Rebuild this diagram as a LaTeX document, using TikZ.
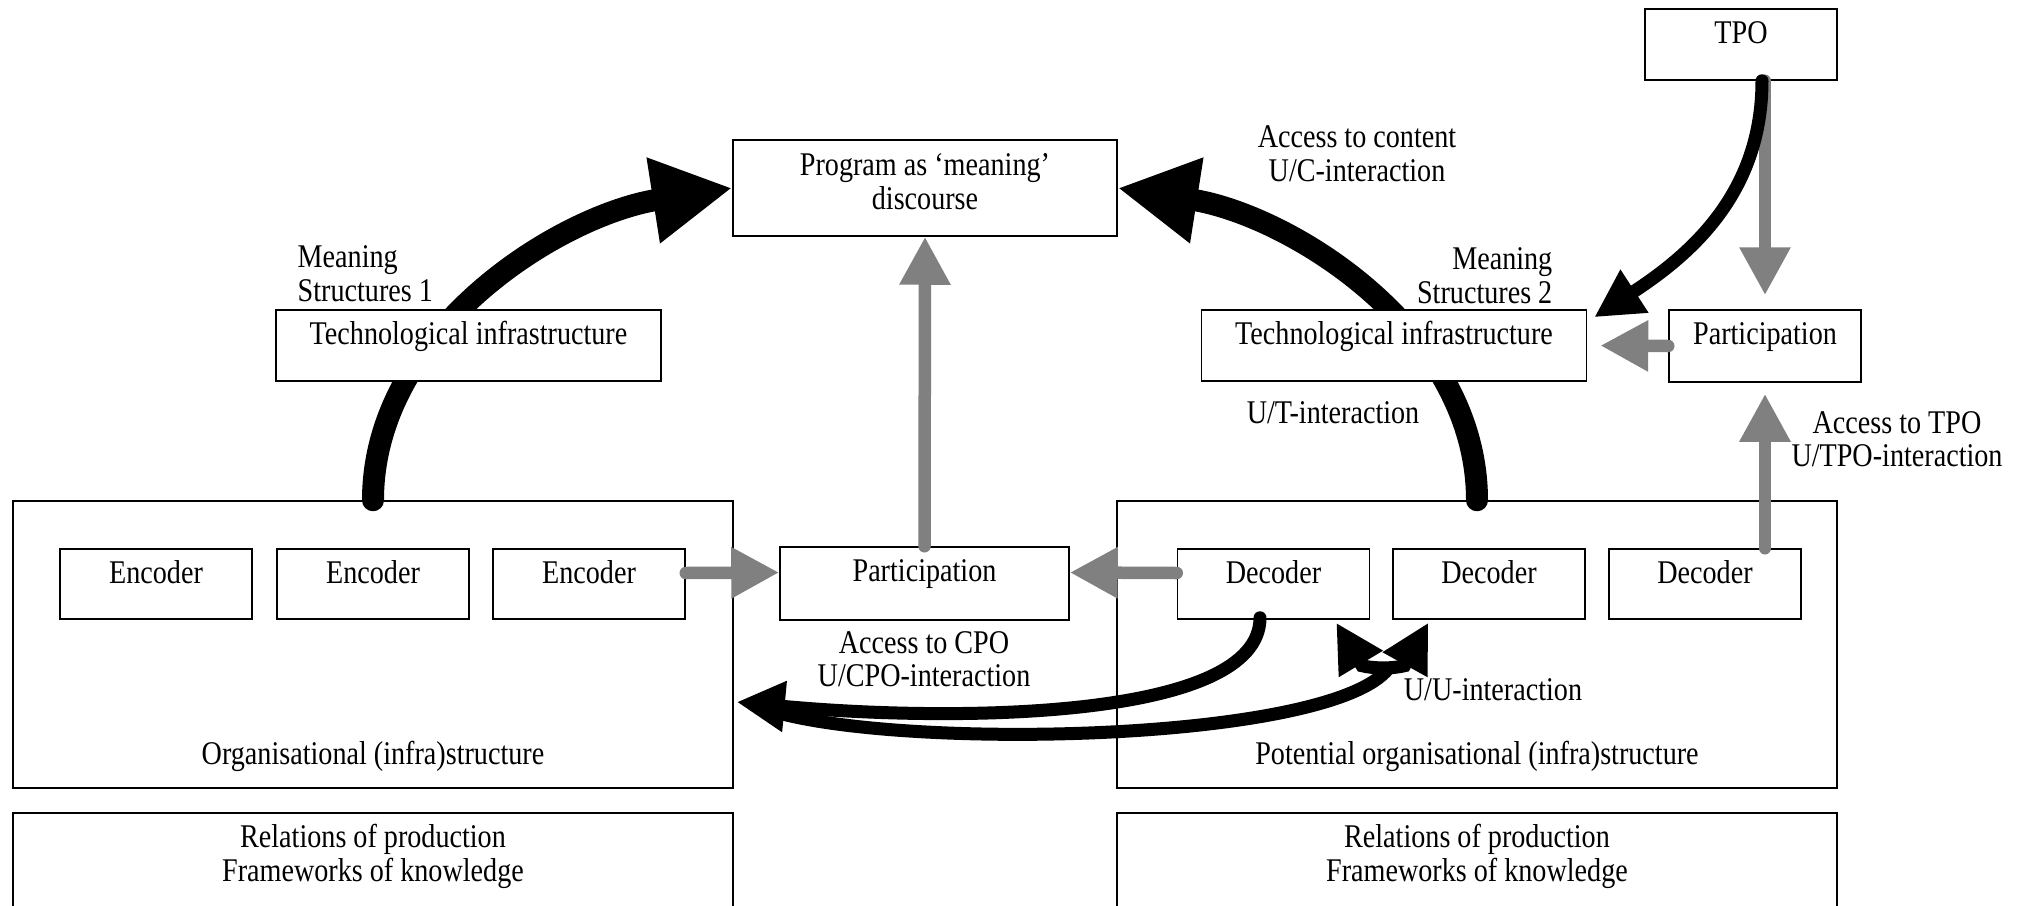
\documentclass[tikz,border=0pt]{standalone}
\usepackage{fontspec}
\setmainfont{Liberation Serif}[FakeStretch=0.85]
\usetikzlibrary{arrows.meta,calc}
\definecolor{arrgray}{RGB}{128,128,128}
\begin{document}
\begin{tikzpicture}[
  txt/.style={font=\fontsize{9.42pt}{9.6pt}\selectfont, inner sep=0pt},
  box/.style={draw, line width=0.015cm, fill=white, inner sep=0pt, rectangle},
  toplab/.style={txt, anchor=base, yshift=-0.35cm},
  toplabii/.style={txt, anchor=north, align=center},
  botlab/.style={txt, anchor=base, yshift=0.24cm},
  bigarr/.style={line width=0.22cm, line cap=round, -{Triangle[length=0.80cm,width=0.81cm]}},
  blkarr/.style={line width=0.13cm, line cap=round, -{Triangle[length=0.48cm,width=0.48cm]}},
  blkline/.style={line width=0.13cm, line cap=round},
  grayarr/.style={draw=arrgray, line width=0.125cm, line cap=round, -{Triangle[length=0.48cm,width=0.48cm]}},
  smallbox/.style={box, minimum width=1.92cm, minimum height=0.70cm},
  bigbox/.style={box, minimum width=7.20cm, minimum height=2.87cm},
  relbox/.style={box, minimum width=7.20cm, minimum height=1.40cm},
  techbox/.style={box, minimum width=3.85cm, minimum height=0.71cm}
]
\useasboundingbox (0,0) rectangle (20.34,-9.06);
\clip (0,0) rectangle (20.34,-9.06);

% organisational boxes
\node[bigbox, label={[botlab]south:Organisational (infra)structure}] (orgl) at (3.73,-6.445) {};
\node[bigbox, label={[botlab]south:Potential organisational (infra)structure}] (orgr) at (14.77,-6.445) {};
\node[relbox, label={[toplabii, yshift=-0.114cm]north:{Relations of production\\Frameworks of knowledge}}] (rl) at (3.73,-8.83) {};
\node[relbox, label={[toplabii, yshift=-0.114cm]north:{Relations of production\\Frameworks of knowledge}}] (rr) at (14.77,-8.83) {};

% encoders, participation, decoders
\node[smallbox, label={[toplab]north:Encoder}] (e1) at (1.56,-5.84) {};
\node[smallbox, label={[toplab]north:Encoder}] (e2) at (3.73,-5.84) {};
\node[smallbox, label={[toplab]north:Encoder}] (e3) at (5.89,-5.84) {};
\node[box, minimum width=2.89cm, minimum height=0.73cm, label={[toplab]north:Participation}] (pm) at (9.245,-5.835) {};
\node[smallbox, label={[toplab]north:Decoder}] (d1) at (12.735,-5.84) {};
\node[smallbox, label={[toplab]north:Decoder}] (d2) at (14.89,-5.84) {};
\node[smallbox, label={[toplab]north:Decoder}] (d3) at (17.05,-5.84) {};

% program box (needed for arcs)
\node[box, minimum width=3.84cm, minimum height=0.96cm, label={[toplabii, yshift=-0.134cm]north:{Program as ‘meaning’\\discourse}}] (prog) at (9.25,-1.88) {};

% big arcs
\draw[bigarr] (orgl.north) .. controls +(0,1.70) and +(-1.72,-0.27) .. (prog.west);
\draw[bigarr] (orgr.north) .. controls +(0,1.70) and +(1.72,-0.27) .. (prog.east);

% technological infrastructure, TPO, participation right
\node[techbox, label={[toplab]north:Technological infrastructure}] (tl) at (4.685,-3.455) {};
\node[techbox, label={[toplab]north:Technological infrastructure}] (tr) at (13.94,-3.455) {};
\node[box, minimum width=1.92cm, minimum height=0.71cm, label={[toplab]north:TPO}] (tpo) at (17.41,-0.445) {};
\node[box, minimum width=1.92cm, minimum height=0.72cm, label={[toplab]north:Participation}] (pr) at (17.65,-3.46) {};

% gray arrows
\draw[grayarr] (pm.north) -- (prog.south);
\draw[grayarr] ([yshift=0.11cm]e3.east) -- ([yshift=0.11cm]pm.west);
\draw[grayarr] ([yshift=0.11cm]d1.west) -- ([yshift=0.11cm]pm.east);
\draw[grayarr, shorten >=0.14cm] (pr.north |- tpo.south) -- (pr.north);
\draw[grayarr, shorten >=0.13cm] (pr.west) -- (tr.east);
\draw[grayarr, shorten >=0.11cm] (pr.south |- d3.north) -- (pr.south);

% black TPO arrow
\draw[blkarr] ($(pr.north |- tpo.south)+(-0.03,0)$) .. controls +(0,-1.12) and +(0.97,0.63) .. ($(tr.north east)+(0.07,-0.08)$);

% U/U interaction
\coordinate (uub) at ($(d1.south east)!0.5!(d2.south west)+(0.07,-0.49)$);
\coordinate (cpo) at ($(orgl.east)+(0.03,-0.575)$);
\draw[blkline, {Triangle[length=0.48cm,width=0.48cm]}-{Triangle[length=0.48cm,width=0.48cm]}]
  ($(d1.south east)+(-0.34,-0.03)$) -- ++(0.257,-0.429)
  .. controls +(0.11,-0.03) and +(-0.11,-0.03) .. ++(0.426,0)
  -- ($(d2.south west)+(0.36,-0.03)$);

% CPO arrows
\draw[blkline, shorten >=0.45cm] (uub) .. controls +(-0.58,-0.72) and +(1.83,-0.48) .. (cpo);
\draw[blkarr] ($(d1.south)+(-0.135,0.02)$) .. controls +(0,-1.03) and +(2.13,-0.20) .. (cpo);

% free labels
\node[txt, align=left, anchor=north west] (ms1) at (2.97,-2.45) {Meaning\\Structures 1};
\node[txt, align=right, anchor=north east] (ms2) at (15.53,-2.47) {Meaning\\Structures 2};
\node[txt, align=center, anchor=north] (acc) at (13.57,-1.254) {Access to content\\U/C-interaction};
\node[txt, anchor=base] (ut) at (13.33,-4.23) {U/T-interaction};
\node[txt, align=center, anchor=north] (atpo) at (18.97,-4.104) {Access to TPO\\U/TPO-interaction};
\node[txt, align=center, anchor=north] (acpo) at (9.24,-6.304) {Access to CPO\\U/CPO-interaction};
\node[txt, anchor=base] (uu) at (14.93,-7.00) {U/U-interaction};
\end{tikzpicture}
\end{document}
